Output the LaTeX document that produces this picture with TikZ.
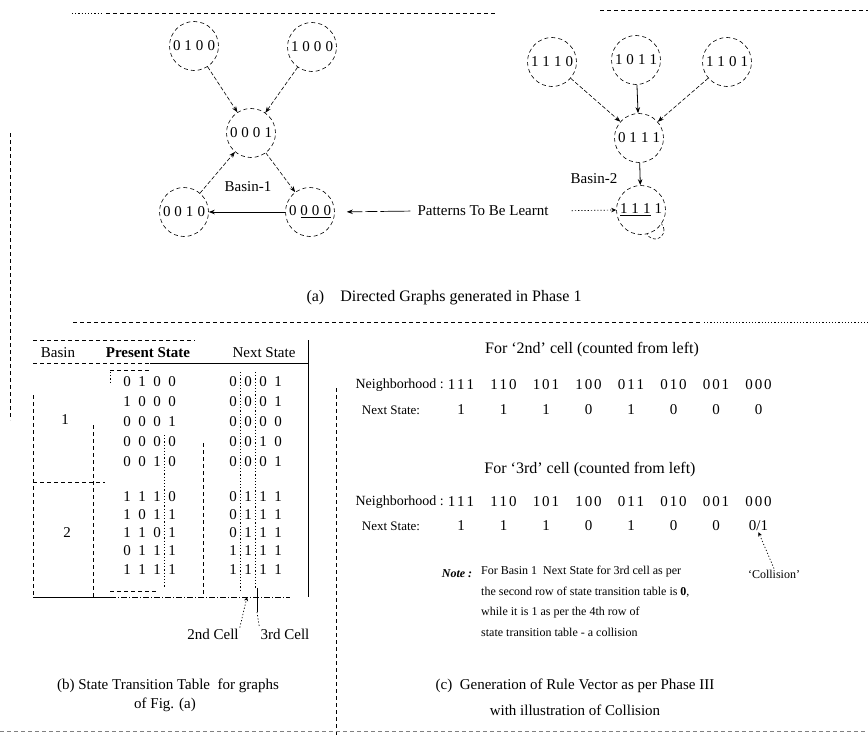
\documentclass[tikz,border=0pt]{standalone}
\usepackage{fontspec}
\setmainfont{Liberation Serif}
\usetikzlibrary{arrows.meta}
\newcommand\cbits[4]{#1\kern4pt#2\kern4pt#3\kern4pt#4}
\newcommand\tbits[4]{#1\kern7.5pt#2\kern7.5pt#3\kern7.5pt#4}
\newcommand\trip[3]{#1\kern2pt#2\kern2pt#3}
\newcommand\fsz[1]{\fontsize{#1}{#1}\selectfont}
\begin{document}
\begin{tikzpicture}[x=1pt,y=-1pt,
  every node/.style={inner sep=1pt},
  font=\fsz{15},
  st/.style={draw, dash pattern=on 4pt off 3pt, circle, minimum size=49pt, inner sep=0pt, fill=white, line width=0.6pt},
  arr/.style={-{Stealth[length=6pt,width=4.5pt]}, dash pattern=on 4pt off 2pt, line width=0.6pt},
  arrs/.style={-{Stealth[length=6pt,width=4.5pt]}, line width=0.8pt},
  rule/.style={dash pattern=on 4pt off 3pt, line width=0.6pt},
  dotr/.style={dash pattern=on 1.2pt off 2pt, line width=0.7pt},
  solidr/.style={line width=0.8pt},
]
\useasboundingbox (0,0) rectangle (868,736);

% ---------- frame lines ----------
\draw[dotr] (72,13) -- (102,13);
\draw[rule] (106,13) -- (495,13);
\draw[rule] (600,10) -- (868,10);
\draw[rule] (10,133) -- (10,420);
\draw[rule] (73,322) -- (700,322);
\draw[dotr] (704,322) -- (868,322);
\draw[rule] (336,388) -- (336,736);
\draw[rule, gray] (0,731) -- (868,731);

% ---------- (a) graphs ----------
\draw[dash pattern=on 3pt off 2pt, line width=0.6pt] (655,230) circle (9pt);
\node[st] (n0100) at (194,46) {\cbits0100};
\node[st] (n1000) at (312,47) {\cbits1000};
\node[st] (n0001) at (251,133) {\cbits0001};
\node[st] (n0010) at (184,212) {\cbits0010};
\node[st] (n0000) at (310,212) {0\kern4pt\underline{0\kern4pt0\kern4pt0}};
\draw[arr] (n0100) -- (n0001);
\draw[arr] (n1000) -- (n0001);
\draw[arr] (n0001) -- (n0000);
\draw[arr] (n0010) -- (n0001);
\draw[arrs] (n0000) -- (n0010);
\node (b1) at (248,187) {Basin-1};

\node[st] (n1110) at (552,62) {\cbits1110};
\node[st] (n1011) at (636,60) {\cbits1011};
\node[st] (n1101) at (727,62) {\cbits1101};
\node[st] (n0111) at (639,138) {\cbits0111};
\node[st] (n1111) at (641,210) {\underline{1\kern4pt1\kern4pt1}\kern4pt1};
\draw[arr] (n1110) -- (n0111);
\draw[arrs] (n1011) -- (n0111);
\draw[arr] (n1101) -- (n0111);
\draw[arrs] (n0111) -- (n1111);
\node (b2) at (594,179) {Basin-2};

\node (pat) at (483,211) {Patterns To Be Learnt};
\draw[-{Stealth[length=6pt,width=4.5pt]}, line width=0.7pt, dash pattern=on 30pt off 3pt on 12pt off 3pt, shorten <=6pt, shorten >=12pt] (pat.west) -- (n0000.east);
\draw[dotr, -{Stealth[length=5pt,width=4.5pt]}, shorten <=22pt] (pat.east) -- (n1111.west);

\node[font=\fsz{16}] (capa) at (444,298) {(a)\quad Directed Graphs generated in Phase 1};

% ---------- (b) table ----------
\draw[rule] (33,340) -- (195,340);
\node (hb) at (58,353) {Basin};
\node (hp) at (148,353) {\textbf{Present State}};
\node (hn) at (264,353) {Next State};
\draw[rule] (33,363) -- (150,363);
\draw[solidr] (150,363) -- (308,363);
\draw[solidr] (308,340) -- (308,597);
\draw[rule] (33,395) -- (33,597);
\draw[rule] (93,425) -- (93,597);
\draw[rule] (203,443) -- (203,597);
\draw[rule] (33,482) -- (105,482);
\draw[solidr] (33,597) -- (110,597);
\draw[dash pattern=on 6pt off 2pt on 1pt off 2pt, line width=0.6pt] (110,597) -- (290,597);

\node (bs1) at (65,420) {1};
\node (bs2) at (67,533) {2};

\foreach \i/\y/\p/\q in {1/382/0100/0001, 2/402/1000/0001, 3/422/0001/0000, 4/442/0000/0010, 5/462/0010/0001,
                         6/497/1110/0111, 7/515/1011/0111, 8/533/1101/0111, 9/551/0111/1111, 10/570/1111/1111} {
  \node (ps\i) at (149.5,\y) {\expandafter\tbits\p};
  \node (ns\i) at (255.5,\y) {\expandafter\tbits\q};
}
\draw[rule] (110,370) -- (150,370);
\draw[dotr] (110,372) -- (110,382);
\draw[rule] (110,591) -- (158,591);
\draw[dotr] (164.5,435) -- (164.5,588);
\draw[dotr] (240.5,372) -- (240.5,590);
\draw[dotr] (255.5,372) -- (255.5,588);

\node (c2) at (213,634) {2nd Cell};
\node (c3) at (285,634) {3rd Cell};
\coordinate (c2tip) at (247,597);
\coordinate (c3top) at (257,588);
\coordinate (c3bot) at (257,612);
\draw[dotr, -{Stealth[length=4pt,width=4pt]}] (c2.north east) -- (c2tip);
\draw[solidr] (c3top) -- (c3bot);
\draw[dotr] (c3bot) -- (c3.north west);

\node (capb1) at (168,686) {(b) State Transition Table\ \ for graphs};
\node (capb2) at (165,705) {of Fig. (a)};

% ---------- (c) rule vector ----------
\node[font=\fsz{16}] (h2) at (592,350) {For `2nd' cell (counted from left)};
\node[anchor=east, font=\fsz{14}] (nbl1) at (445,385) {Neighborhood :};
\node[font=\fsz{13}] (nsl1) at (391,410) {Next State:};
\foreach \v [count=\k] in {111,110,101,100,011,010,001,000} {
  \node (na\k) at ({418.5+42.5*\k},385) {\expandafter\trip\v};
}
\foreach \v [count=\k] in {1,1,1,0,1,0,0,0} {
  \node (va\k) at ({418.5+42.5*\k},410) {\v};
}

\node[font=\fsz{16}] (h3) at (590,470) {For `3rd' cell (counted from left)};
\node[anchor=east, font=\fsz{14}] (nbl2) at (445,502) {Neighborhood :};
\node[font=\fsz{13}] (nsl2) at (391,526) {Next State:};
\foreach \v [count=\k] in {111,110,101,100,011,010,001,000} {
  \node (nb\k) at ({418.5+42.5*\k},502) {\expandafter\trip\v};
}
\foreach \v [count=\k] in {1,1,1,0,1,0,0} {
  \node (vb\k) at ({418.5+42.5*\k},526) {\v};
}
\node (vb8) at (758.5,526) {0/1};

\node[font=\fsz{12}] (coll) at (774,574) {`Collision'};
\draw[dotr, -{Stealth[length=4pt,width=4pt]}] (coll.north) -- (vb8.south);

\node[font=\fsz{12}\bfseries\itshape] (note) at (457,574) {Note :};
\node[anchor=north west, align=left, font=\fontsize{12}{20.5}\selectfont] (notetxt) at (480,565)
  {For Basin 1\ \ Next State for 3rd cell as per\\
   the second row of state transition table is \textbf{0},\\
   while it is 1 as per the 4th row of\\
   state transition table - a collision};

\node (capc1) at (575,686) {(c)\ \ Generation of Rule Vector as per Phase III};
\node (capc2) at (575,710) {with illustration of Collision};

\end{tikzpicture}
\end{document}
